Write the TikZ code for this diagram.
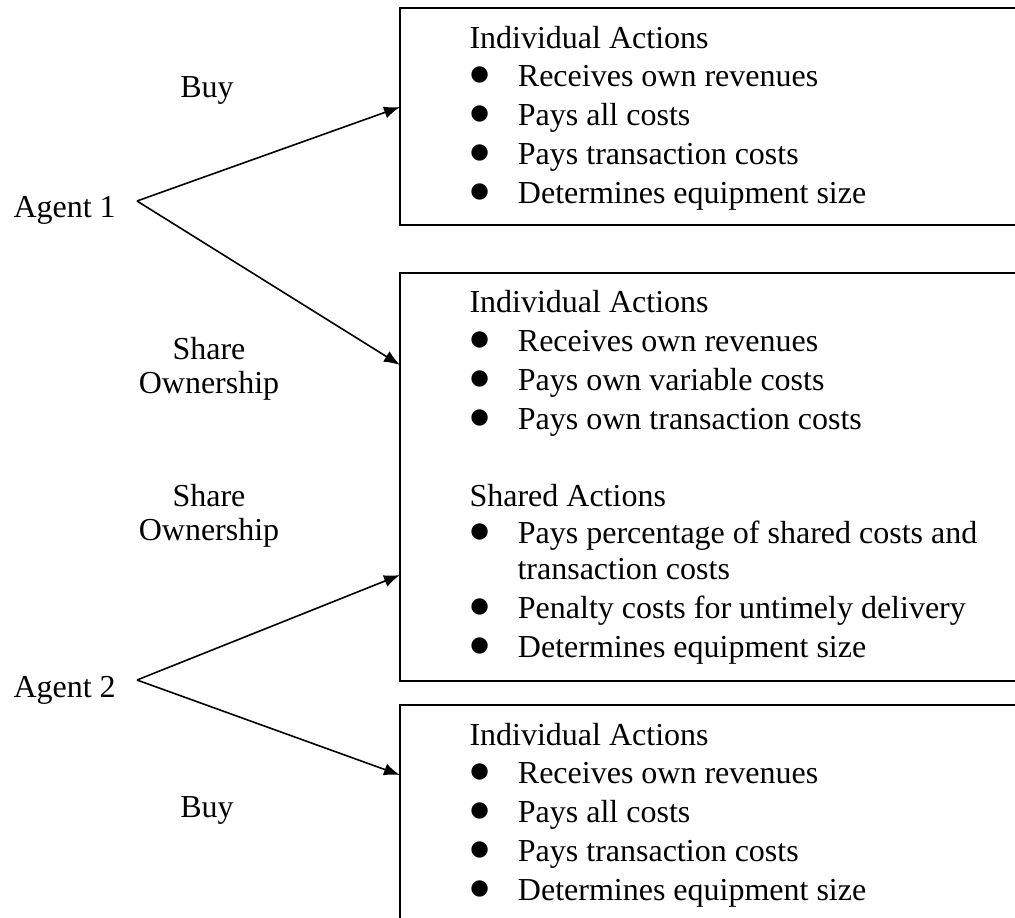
\documentclass[tikz,border=0pt]{standalone}
\usepackage{fontspec}
\setmainfont{Liberation Serif}
\newfontfamily\dotfont{DejaVu Sans}
\usetikzlibrary{arrows.meta}
\newcommand{\itemdot}{\makebox[17.4pt][l]{\hspace{-0.4pt}\raisebox{1.9pt}{\dotfont\fontsize{8}{9}\selectfont ●}}}

\begin{document}
\begin{tikzpicture}[x=0.375pt, y=-0.375pt,
        txt/.style={anchor=base west, inner sep=0pt, font=\fontsize{12}{14}\selectfont},
        lbl/.style={anchor=base, inner sep=0pt, font=\fontsize{12}{14}\selectfont},
        frame/.style={draw, line width=0.8pt},
        link/.style={line width=0.6pt, -{Latex[length=6pt, width=4.6pt]}}]
        \useasboundingbox (0,0) rectangle (1015,917);
        \clip (0,0) rectangle (1015,917);

        % the three boxes, cut off at the right
        \draw[frame] (400,8) rectangle (1040,225);
        \draw[frame] (400,273) rectangle (1040,681);
        \draw[frame] (400,705) rectangle (1040,940);

        \coordinate (a1tip) at (137,201);
        \coordinate (a2tip) at (137,680);
        \coordinate (buy1in) at (400,107);
        \coordinate (share1in) at (400,365);
        \coordinate (share2in) at (400,575);
        \coordinate (buy2in) at (400,775);

        \node[txt] (ag1) at (13,217) {Agent 1};
        \node[txt] (ag2) at (13,697) {Agent 2};
        \node[lbl] (buy1) at (207,97) {Buy};
        \node[lbl] (sh1) at (209,359) {Share};
        \node[lbl] (own1) at (209,393) {Ownership};
        \node[lbl] (sh2) at (209,506) {Share};
        \node[lbl] (own2) at (209,540) {Ownership};
        \node[lbl] (buy2) at (207,817) {Buy};

        \draw[link] (a1tip) -- (buy1in);
        \draw[link] (a1tip) -- (share1in);
        \draw[link] (a2tip) -- (share2in);
        \draw[link] (a2tip) -- (buy2in);

        % first box
        \node[txt] (ind1) at (469,48) {Individual Actions};
        \node[txt] (ind1a) at (471,86) {\itemdot Receives own revenues};
        \node[txt] (ind1b) at (471,125) {\itemdot Pays all costs};
        \node[txt] (ind1c) at (471,164) {\itemdot Pays transaction costs};
        \node[txt] (ind1d) at (471,203) {\itemdot Determines equipment size};

        % shared box
        \node[txt] (ind2) at (469,312) {Individual Actions};
        \node[txt] (ind2a) at (471,351) {\itemdot Receives own revenues};
        \node[txt] (ind2b) at (471,390) {\itemdot Pays own variable costs};
        \node[txt] (ind2c) at (471,429) {\itemdot Pays own transaction costs};
        \node[txt] (shd) at (469,506) {Shared Actions};
        \node[txt] (shda) at (471,543) {\itemdot Pays percentage of shared costs and};
        \node[txt] (shdb) at (517,579) {transaction costs};
        \node[txt] (shdc) at (471,618) {\itemdot Penalty costs for untimely delivery};
        \node[txt] (shdd) at (471,657) {\itemdot Determines equipment size};

        % last box
        \node[txt] (ind3) at (469,745) {Individual Actions};
        \node[txt] (ind3a) at (471,783) {\itemdot Receives own revenues};
        \node[txt] (ind3b) at (471,822) {\itemdot Pays all costs};
        \node[txt] (ind3c) at (471,861) {\itemdot Pays transaction costs};
        \node[txt] (ind3d) at (471,900) {\itemdot Determines equipment size};
\end{tikzpicture}
\end{document}
